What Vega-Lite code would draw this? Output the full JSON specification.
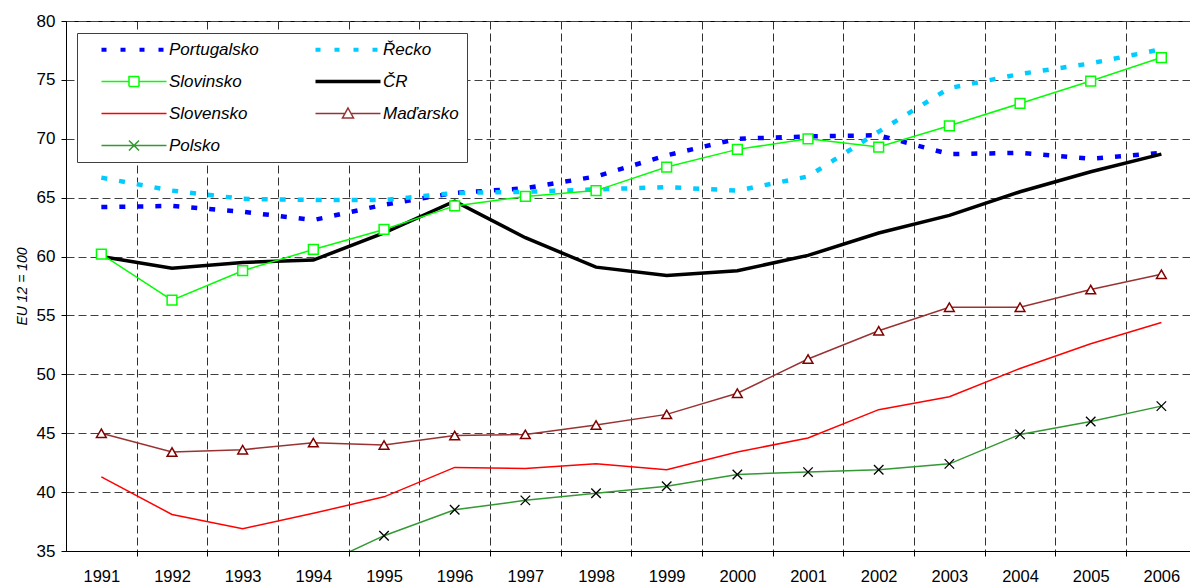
{
  "$schema": "https://vega.github.io/schema/vega-lite/v6.json",
  "width": 1124,
  "height": 530,
  "autosize": {"type": "none"},
  "padding": {"left": 66, "top": 21, "right": 0, "bottom": 32},
  "config": {
    "font": "Liberation Sans",
    "view": {"stroke": "black", "strokeWidth": 1},
    "axis": {"labelColor": "black", "titleColor": "black", "domainColor": "black", "tickColor": "black"}
  },
  "data": {"values": [
    {"country": "Portugalsko", "year": 1991, "value": 64.2},
    {"country": "Portugalsko", "year": 1992, "value": 64.3},
    {"country": "Portugalsko", "year": 1993, "value": 63.8},
    {"country": "Portugalsko", "year": 1994, "value": 63.1},
    {"country": "Portugalsko", "year": 1995, "value": 64.4},
    {"country": "Portugalsko", "year": 1996, "value": 65.4},
    {"country": "Portugalsko", "year": 1997, "value": 65.8},
    {"country": "Portugalsko", "year": 1998, "value": 66.8},
    {"country": "Portugalsko", "year": 1999, "value": 68.6},
    {"country": "Portugalsko", "year": 2000, "value": 70.0},
    {"country": "Portugalsko", "year": 2001, "value": 70.2},
    {"country": "Portugalsko", "year": 2002, "value": 70.3},
    {"country": "Portugalsko", "year": 2003, "value": 68.7},
    {"country": "Portugalsko", "year": 2004, "value": 68.8},
    {"country": "Portugalsko", "year": 2005, "value": 68.3},
    {"country": "Portugalsko", "year": 2006, "value": 68.8},
    {"country": "Řecko", "year": 1991, "value": 66.7},
    {"country": "Řecko", "year": 1992, "value": 65.6},
    {"country": "Řecko", "year": 1993, "value": 64.9},
    {"country": "Řecko", "year": 1994, "value": 64.8},
    {"country": "Řecko", "year": 1995, "value": 64.8},
    {"country": "Řecko", "year": 1996, "value": 65.4},
    {"country": "Řecko", "year": 1997, "value": 65.5},
    {"country": "Řecko", "year": 1998, "value": 65.7},
    {"country": "Řecko", "year": 1999, "value": 65.9},
    {"country": "Řecko", "year": 2000, "value": 65.6},
    {"country": "Řecko", "year": 2001, "value": 66.8},
    {"country": "Řecko", "year": 2002, "value": 70.6},
    {"country": "Řecko", "year": 2003, "value": 74.3},
    {"country": "Řecko", "year": 2004, "value": 75.5},
    {"country": "Řecko", "year": 2005, "value": 76.4},
    {"country": "Řecko", "year": 2006, "value": 77.6},
    {"country": "Slovinsko", "year": 1991, "value": 60.2},
    {"country": "Slovinsko", "year": 1992, "value": 56.3},
    {"country": "Slovinsko", "year": 1993, "value": 58.8},
    {"country": "Slovinsko", "year": 1994, "value": 60.6},
    {"country": "Slovinsko", "year": 1995, "value": 62.3},
    {"country": "Slovinsko", "year": 1996, "value": 64.3},
    {"country": "Slovinsko", "year": 1997, "value": 65.1},
    {"country": "Slovinsko", "year": 1998, "value": 65.6},
    {"country": "Slovinsko", "year": 1999, "value": 67.6},
    {"country": "Slovinsko", "year": 2000, "value": 69.1},
    {"country": "Slovinsko", "year": 2001, "value": 70.0},
    {"country": "Slovinsko", "year": 2002, "value": 69.3},
    {"country": "Slovinsko", "year": 2003, "value": 71.1},
    {"country": "Slovinsko", "year": 2004, "value": 73.0},
    {"country": "Slovinsko", "year": 2005, "value": 74.9},
    {"country": "Slovinsko", "year": 2006, "value": 76.9},
    {"country": "ČR", "year": 1991, "value": 60.0},
    {"country": "ČR", "year": 1992, "value": 59.0},
    {"country": "ČR", "year": 1993, "value": 59.5},
    {"country": "ČR", "year": 1994, "value": 59.7},
    {"country": "ČR", "year": 1995, "value": 62.0},
    {"country": "ČR", "year": 1996, "value": 64.7},
    {"country": "ČR", "year": 1997, "value": 61.6},
    {"country": "ČR", "year": 1998, "value": 59.1},
    {"country": "ČR", "year": 1999, "value": 58.4},
    {"country": "ČR", "year": 2000, "value": 58.8},
    {"country": "ČR", "year": 2001, "value": 60.1},
    {"country": "ČR", "year": 2002, "value": 62.0},
    {"country": "ČR", "year": 2003, "value": 63.5},
    {"country": "ČR", "year": 2004, "value": 65.5},
    {"country": "ČR", "year": 2005, "value": 67.2},
    {"country": "ČR", "year": 2006, "value": 68.7},
    {"country": "Slovensko", "year": 1991, "value": 41.3},
    {"country": "Slovensko", "year": 1992, "value": 38.1},
    {"country": "Slovensko", "year": 1993, "value": 36.9},
    {"country": "Slovensko", "year": 1994, "value": 38.2},
    {"country": "Slovensko", "year": 1995, "value": 39.6},
    {"country": "Slovensko", "year": 1996, "value": 42.1},
    {"country": "Slovensko", "year": 1997, "value": 42.0},
    {"country": "Slovensko", "year": 1998, "value": 42.4},
    {"country": "Slovensko", "year": 1999, "value": 41.9},
    {"country": "Slovensko", "year": 2000, "value": 43.4},
    {"country": "Slovensko", "year": 2001, "value": 44.6},
    {"country": "Slovensko", "year": 2002, "value": 47.0},
    {"country": "Slovensko", "year": 2003, "value": 48.1},
    {"country": "Slovensko", "year": 2004, "value": 50.5},
    {"country": "Slovensko", "year": 2005, "value": 52.6},
    {"country": "Slovensko", "year": 2006, "value": 54.4},
    {"country": "Maďarsko", "year": 1991, "value": 45.0},
    {"country": "Maďarsko", "year": 1992, "value": 43.4},
    {"country": "Maďarsko", "year": 1993, "value": 43.6},
    {"country": "Maďarsko", "year": 1994, "value": 44.2},
    {"country": "Maďarsko", "year": 1995, "value": 44.0},
    {"country": "Maďarsko", "year": 1996, "value": 44.8},
    {"country": "Maďarsko", "year": 1997, "value": 44.9},
    {"country": "Maďarsko", "year": 1998, "value": 45.7},
    {"country": "Maďarsko", "year": 1999, "value": 46.6},
    {"country": "Maďarsko", "year": 2000, "value": 48.4},
    {"country": "Maďarsko", "year": 2001, "value": 51.3},
    {"country": "Maďarsko", "year": 2002, "value": 53.7},
    {"country": "Maďarsko", "year": 2003, "value": 55.7},
    {"country": "Maďarsko", "year": 2004, "value": 55.7},
    {"country": "Maďarsko", "year": 2005, "value": 57.2},
    {"country": "Maďarsko", "year": 2006, "value": 58.5},
    {"country": "Polsko", "year": 1994, "value": 33.5},
    {"country": "Polsko", "year": 1995, "value": 36.3},
    {"country": "Polsko", "year": 1996, "value": 38.5},
    {"country": "Polsko", "year": 1997, "value": 39.3},
    {"country": "Polsko", "year": 1998, "value": 39.9},
    {"country": "Polsko", "year": 1999, "value": 40.5},
    {"country": "Polsko", "year": 2000, "value": 41.5},
    {"country": "Polsko", "year": 2001, "value": 41.7},
    {"country": "Polsko", "year": 2002, "value": 41.9},
    {"country": "Polsko", "year": 2003, "value": 42.4},
    {"country": "Polsko", "year": 2004, "value": 44.9},
    {"country": "Polsko", "year": 2005, "value": 46.0},
    {"country": "Polsko", "year": 2006, "value": 47.3}
  ]},
  "encoding": {
    "x": {
      "field": "year", "type": "quantitative",
      "scale": {"domain": [1990.5, 2006.405], "nice": false, "zero": false},
      "axis": {
        "title": null,
        "values": [1991, 1991.5, 1992, 1992.5, 1993, 1993.5, 1994, 1994.5, 1995, 1995.5, 1996, 1996.5, 1997, 1997.5, 1998, 1998.5, 1999, 1999.5, 2000, 2000.5, 2001, 2001.5, 2002, 2002.5, 2003, 2003.5, 2004, 2004.5, 2005, 2005.5, 2006],
        "labelExpr": "datum.value % 1 === 0 ? format(datum.value, 'd') : ''",
        "labelOverlap": false,
        "labelFlush": false,
        "labelFontSize": 16.5,
        "labelPadding": 12,
        "tickSize": 5,
        "tickOpacity": {"condition": {"test": "datum.value % 1 !== 0", "value": 1}, "value": 0},
        "grid": true,
        "gridColor": "#303030",
        "gridDash": [8, 4],
        "gridWidth": 1,
        "gridOpacity": {"condition": {"test": "datum.value % 1 !== 0", "value": 1}, "value": 0}
      }
    },
    "y": {
      "field": "value", "type": "quantitative",
      "scale": {"domain": [35, 80], "nice": false, "zero": false},
      "axis": {
        "title": "EU 12 = 100",
        "titleFontSize": 14,
        "titleFontStyle": "italic",
        "titleFontWeight": "normal",
        "titlePadding": 7,
        "values": [35, 40, 45, 50, 55, 60, 65, 70, 75, 80],
        "labelFontSize": 17,
        "labelPadding": 6,
        "tickSize": 5,
        "grid": true,
        "gridColor": "#404040",
        "gridDash": [8, 4],
        "gridWidth": 1
      }
    }
  },
  "layer": [
    {
      "transform": [{"filter": "datum.country === 'Portugalsko' || datum.country === 'Řecko'"}],
      "mark": {"type": "line", "strokeWidth": 4.5, "strokeDash": [6, 12], "clip": true},
      "encoding": {
        "color": {
          "field": "country", "type": "nominal",
          "scale": {
            "domain": ["Portugalsko", "Slovinsko", "Slovensko", "Polsko", "Řecko", "ČR", "Maďarsko"],
            "range": ["#0000FF", "#00FF00", "#FF0000", "#339933", "#00CCFF", "#000000", "#993333"]
          },
          "legend": {
            "title": null,
            "orient": "none",
            "legendX": 11,
            "legendY": 12,
            "columns": 2,
            "gridAlign": "all",
            "padding": 8,
            "rowPadding": 14,
            "columnPadding": 40,
            "symbolSize": 100,
            "symbolOffset": 40.5,
            "labelOffset": 26.5,
            "labelFont": "Liberation Sans",
            "labelFontSize": 17,
            "labelFontStyle": "italic",
            "labelColor": "black",
            "labelLimit": 300,
            "fillColor": "white",
            "strokeColor": "#404040",
            "encode": {
              "symbols": {
                "update": {
                  "shape": {"signal": "datum.value === 'Slovinsko' ? 'M-6.5,0H-1M1,0H6.5M-1,-1H1V1H-1Z' : datum.value === 'Maďarsko' ? 'M-6.5,0H-0.6M0.6,0H6.5M0,-1.1L1.1,0.9L-1.1,0.9Z' : datum.value === 'Polsko' ? 'M-6.5,0H6.5M-1,-1L1,1M1,-1L-1,1' : 'M-6.5,0H6.5'"},
                  "strokeDash": {"signal": "(datum.value === 'Portugalsko' || datum.value === 'Řecko') ? [5, 14] : [1, 0]"},
                  "strokeWidth": {"signal": "(datum.value === 'Portugalsko' || datum.value === 'Řecko') ? 4 : datum.value === 'ČR' ? 3.5 : 1.5"},
                  "stroke": {"scale": "color", "field": "value"},
                  "fill": {"value": "white"},
                  "fillOpacity": {"value": 1},
                  "opacity": {"value": 1}
                }
              }
            }
          }
        }
      }
    },
    {
      "transform": [{"filter": "datum.country === 'ČR'"}],
      "mark": {"type": "line", "strokeWidth": 3.5, "clip": true},
      "encoding": {"color": {"field": "country", "type": "nominal"}}
    },
    {
      "transform": [{"filter": "datum.country === 'Slovinsko' || datum.country === 'Slovensko' || datum.country === 'Maďarsko' || datum.country === 'Polsko'"}],
      "mark": {"type": "line", "strokeWidth": 1.5, "clip": true},
      "encoding": {"color": {"field": "country", "type": "nominal"}}
    },
    {
      "transform": [{"filter": "datum.country === 'Slovinsko'"}],
      "mark": {"type": "point", "shape": "square", "size": 95, "filled": true, "fill": "white", "stroke": "#00FF00", "strokeWidth": 1.5, "opacity": 1, "clip": true},
      "encoding": {}
    },
    {
      "transform": [{"filter": "datum.country === 'Maďarsko'"}],
      "mark": {"type": "point", "shape": "triangle-up", "size": 95, "filled": true, "fill": "white", "stroke": "#800000", "strokeWidth": 1.5, "opacity": 1, "clip": true},
      "encoding": {}
    },
    {
      "transform": [{"filter": "datum.country === 'Polsko'"}],
      "mark": {"type": "point", "shape": "M-1,-1L1,1M1,-1L-1,1", "size": 90, "filled": false, "stroke": "black", "strokeWidth": 1.3, "opacity": 1, "clip": true},
      "encoding": {}
    }
  ]
}
